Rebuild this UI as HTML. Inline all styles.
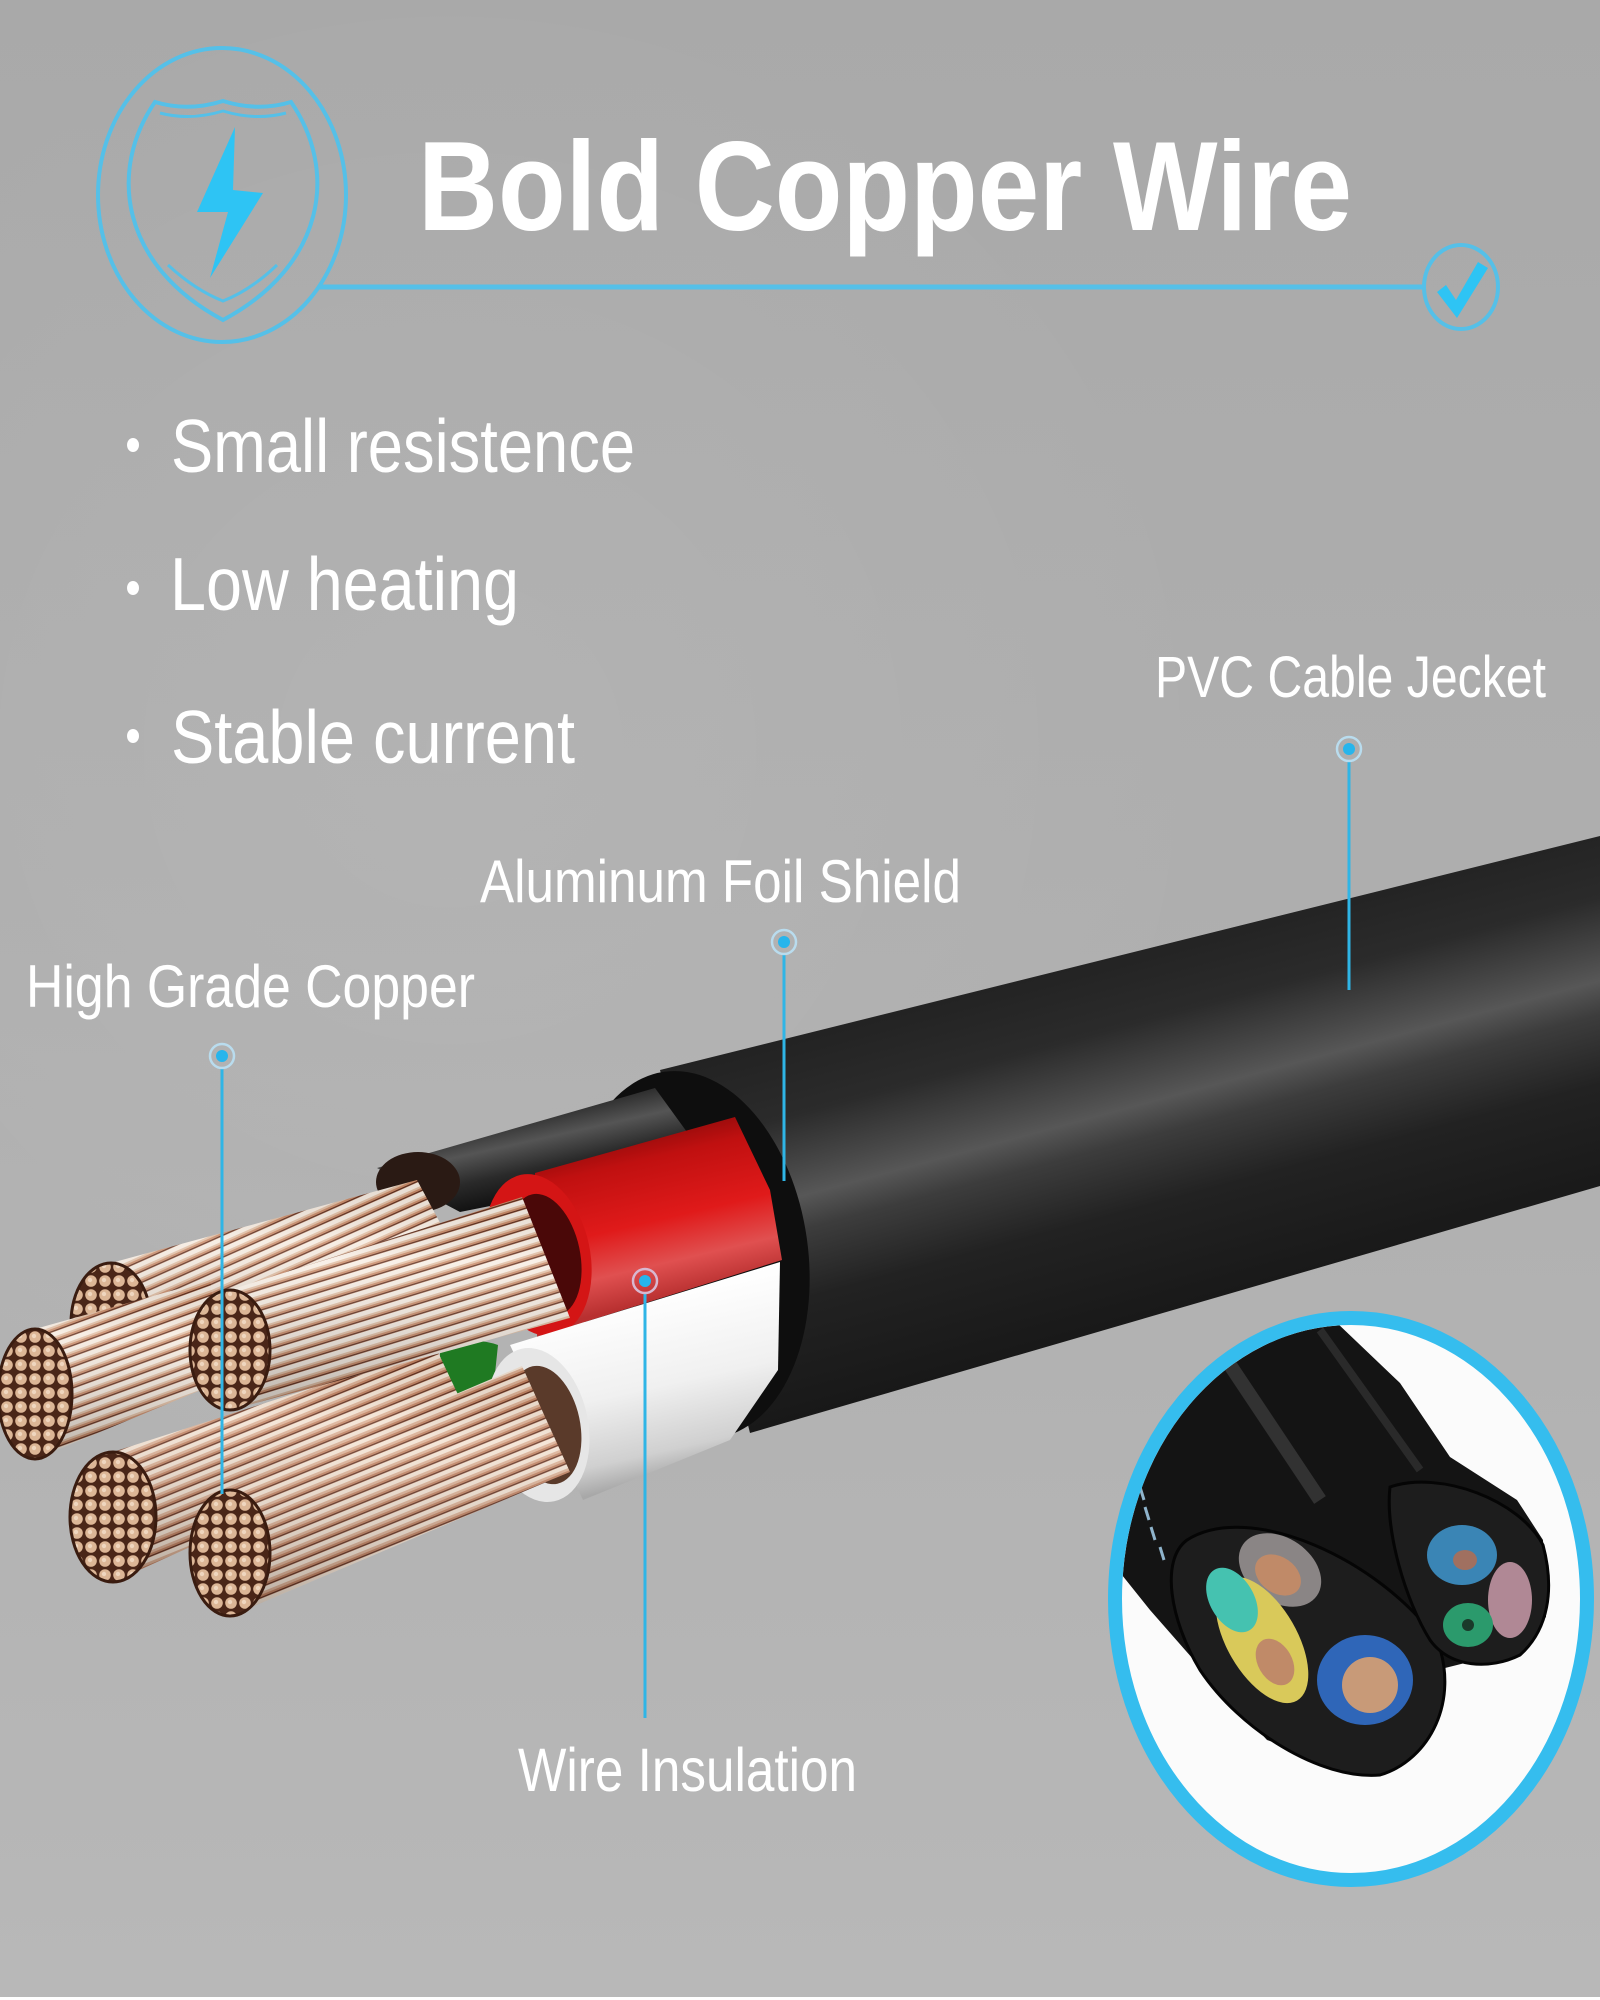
<!DOCTYPE html>
<html><head><meta charset="utf-8"><style>
html,body{margin:0;padding:0;width:1600px;height:2000px;overflow:hidden;background:#b0b0b0}
svg{display:block}
text{font-family:"Liberation Sans",sans-serif;fill:#fff}
</style></head><body>
<svg width="1600" height="2000" viewBox="0 0 1600 2000" xmlns="http://www.w3.org/2000/svg">
<defs>
 <linearGradient id="bg" x1="0" y1="0" x2="0" y2="1">
  <stop offset="0" stop-color="#a9a9a9"/>
  <stop offset="0.5" stop-color="#afafaf"/>
  <stop offset="1" stop-color="#b8b8b8"/>
 </linearGradient>
 <radialGradient id="bgl" cx="450" cy="750" r="800" gradientUnits="userSpaceOnUse">
  <stop offset="0" stop-color="#fff" stop-opacity="0.07"/>
  <stop offset="1" stop-color="#fff" stop-opacity="0"/>
 </radialGradient>
 <linearGradient id="jk" gradientUnits="userSpaceOnUse" x1="1100" y1="950" x2="1204" y2="1336">
  <stop offset="0" stop-color="#222"/>
  <stop offset="0.2" stop-color="#2b2b2b"/>
  <stop offset="0.33" stop-color="#474747"/>
  <stop offset="0.40" stop-color="#575757"/>
  <stop offset="0.48" stop-color="#3d3d3d"/>
  <stop offset="0.65" stop-color="#222"/>
  <stop offset="1" stop-color="#161616"/>
 </linearGradient>
 <linearGradient id="redg" gradientUnits="userSpaceOnUse" x1="620" y1="1130" x2="660" y2="1300">
  <stop offset="0" stop-color="#8a0a0a"/>
  <stop offset="0.2" stop-color="#c01010"/>
  <stop offset="0.55" stop-color="#e01a1a"/>
  <stop offset="0.8" stop-color="#e05050"/>
  <stop offset="1" stop-color="#b83030"/>
 </linearGradient>
 <linearGradient id="whg" gradientUnits="userSpaceOnUse" x1="620" y1="1300" x2="660" y2="1480">
  <stop offset="0" stop-color="#ffffff"/>
  <stop offset="0.5" stop-color="#f0f0f0"/>
  <stop offset="0.85" stop-color="#d0d0d0"/>
  <stop offset="1" stop-color="#a8a8a8"/>
 </linearGradient>
 <linearGradient id="bkg" gradientUnits="userSpaceOnUse" x1="500" y1="1110" x2="520" y2="1200">
  <stop offset="0" stop-color="#1a1a1a"/>
  <stop offset="0.4" stop-color="#555"/>
  <stop offset="0.7" stop-color="#2a2a2a"/>
  <stop offset="1" stop-color="#111"/>
 </linearGradient>
 <linearGradient id="shade" x1="0" y1="0" x2="0" y2="1">
  <stop offset="0" stop-color="#000" stop-opacity="0.05"/>
  <stop offset="0.3" stop-color="#fff" stop-opacity="0.15"/>
  <stop offset="1" stop-color="#000" stop-opacity="0.25"/>
 </linearGradient>
 <pattern id="sA" width="200" height="10" patternUnits="userSpaceOnUse" patternTransform="rotate(-24)">
  <rect width="200" height="10" fill="#c88a68"/><rect y="0" width="200" height="4.5" fill="#f6ebe0"/><rect y="4.5" width="200" height="2" fill="#e2bfa4"/><rect y="8.5" width="200" height="1.2" fill="#5a2a1a"/>
 </pattern>
 <pattern id="sB" width="200" height="10" patternUnits="userSpaceOnUse" patternTransform="rotate(-20)">
  <rect width="200" height="10" fill="#c88a68"/><rect y="0" width="200" height="4.5" fill="#f6ebe0"/><rect y="4.5" width="200" height="2" fill="#e2bfa4"/><rect y="8.5" width="200" height="1.2" fill="#5a2a1a"/>
 </pattern>
 <pattern id="sC" width="200" height="10" patternUnits="userSpaceOnUse" patternTransform="rotate(-17)">
  <rect width="200" height="10" fill="#c88a68"/><rect y="0" width="200" height="4.5" fill="#f8eee4"/><rect y="4.5" width="200" height="2" fill="#e2bfa4"/><rect y="8.5" width="200" height="1.2" fill="#5a2a1a"/>
 </pattern>
 <pattern id="sE" width="200" height="10" patternUnits="userSpaceOnUse" patternTransform="rotate(-22)">
  <rect width="200" height="10" fill="#bf7f5e"/><rect y="0" width="200" height="4" fill="#f3e2d2"/><rect y="4" width="200" height="2.5" fill="#dbae92"/><rect y="8.5" width="200" height="1.2" fill="#5a2a1a"/>
 </pattern>
 <pattern id="dots" width="14" height="14" patternUnits="userSpaceOnUse">
  <rect width="14" height="14" fill="#4a2618"/><circle cx="7" cy="7" r="5.8" fill="#dcb696"/><circle cx="6" cy="6" r="2.2" fill="#efd6bf"/>
 </pattern>
 <clipPath id="insetClip"><ellipse cx="1351" cy="1599" rx="229" ry="274"/></clipPath>
</defs>

<!-- background -->
<rect width="1600" height="2000" fill="url(#bg)"/>
<rect width="1600" height="2000" fill="url(#bgl)"/>
<rect y="1997" width="1600" height="3" fill="#fff"/>

<!-- shield icon -->
<ellipse cx="222" cy="195" rx="124" ry="147" fill="none" stroke="#55c0e8" stroke-width="4"/>
<path d="M155,102 Q188,112 223,101 Q258,112 291,102 C338,170 326,265 223,320 C120,265 108,170 155,102 Z" fill="none" stroke="#55c0e8" stroke-width="4"/>
<path d="M160,113 Q190,121 223,111 Q256,121 286,113" fill="none" stroke="#55c0e8" stroke-width="3"/>
<path d="M168,265 Q195,290 223,301 Q251,290 277,265" fill="none" stroke="#55c0e8" stroke-width="3"/>
<polygon points="235,127 197,212 228,212 210,278 263,193 233,190" fill="#2ec4f4"/>
<line x1="318" y1="287" x2="1424" y2="287" stroke="#55c0e8" stroke-width="5"/>
<ellipse cx="1461" cy="287" rx="37" ry="42" fill="none" stroke="#55c0e8" stroke-width="4"/>
<polygon points="1437,292 1446,285 1456,300 1478,262 1488,268 1457,318" fill="#2ec4f4"/>

<!-- title -->
<text transform="translate(418,230) scale(1,1.16)" font-size="110" font-weight="bold" textLength="934" lengthAdjust="spacingAndGlyphs">Bold Copper Wire</text>

<!-- bullets -->
<ellipse cx="133" cy="445" rx="6" ry="7" fill="#fff"/>
<ellipse cx="133" cy="588" rx="6" ry="7" fill="#fff"/>
<ellipse cx="133" cy="736" rx="6" ry="7" fill="#fff"/>
<text transform="translate(171,472) scale(1,1.18)" font-size="64" textLength="464" lengthAdjust="spacingAndGlyphs">Small resistence</text>
<text transform="translate(170,610) scale(1,1.18)" font-size="64" textLength="349" lengthAdjust="spacingAndGlyphs">Low heating</text>
<text transform="translate(171,763) scale(1,1.18)" font-size="64" textLength="404" lengthAdjust="spacingAndGlyphs">Stable current</text>

<!-- labels -->
<text transform="translate(1155,697) scale(1,1.22)" font-size="48" textLength="391" lengthAdjust="spacingAndGlyphs">PVC Cable Jecket</text>
<text transform="translate(480,902) scale(1,1.18)" font-size="51" textLength="481" lengthAdjust="spacingAndGlyphs">Aluminum Foil Shield</text>
<text transform="translate(26,1007) scale(1,1.18)" font-size="51" textLength="449" lengthAdjust="spacingAndGlyphs">High Grade Copper</text>
<text transform="translate(518,1791) scale(1,1.2)" font-size="51" textLength="339" lengthAdjust="spacingAndGlyphs">Wire Insulation</text>

<!-- jacket -->
<path d="M660,1070 L1600,836 L1600,1186 L750,1433 Z" fill="url(#jk)"/>
<ellipse cx="690" cy="1255" rx="118" ry="185" transform="rotate(-8 690 1255)" fill="#0e0e0e"/>

<!-- black core -->
<path d="M377,1168 L655,1088 L700,1150 L520,1200 L460,1212 Z" fill="url(#bkg)"/>
<ellipse cx="418" cy="1182" rx="42" ry="30" fill="#2a1a14"/>

<!-- bundle A -->
<path d="M111,1263 L417,1180 L445,1232 L111,1383 Z" fill="url(#sA)"/>
<path d="M111,1263 L417,1180 L445,1232 L111,1383 Z" fill="url(#shade)"/>
<ellipse cx="111" cy="1323" rx="40" ry="60" fill="url(#dots)" stroke="#3a1c10" stroke-width="3"/>

<!-- bundle B -->
<path d="M35,1329 L210,1280 L225,1380 L35,1459 Z" fill="url(#sB)"/>
<path d="M35,1329 L210,1280 L225,1380 L35,1459 Z" fill="url(#shade)"/>
<ellipse cx="35" cy="1394" rx="37" ry="65" fill="url(#dots)" stroke="#3a1c10" stroke-width="3"/>

<!-- green core -->
<path d="M440,1350 Q470,1335 498,1345 L492,1402 Q460,1402 440,1392 Z" fill="#1f7a22"/>

<!-- bundle D -->
<path d="M113,1452 L436,1348 L470,1420 L113,1582 Z" fill="url(#sE)"/>
<path d="M113,1452 L436,1348 L470,1420 L113,1582 Z" fill="url(#shade)"/>
<ellipse cx="113" cy="1517" rx="43" ry="65" fill="url(#dots)" stroke="#3a1c10" stroke-width="3"/>

<!-- red core -->
<path d="M535,1173 L735,1117 L770,1190 L782,1260 L537,1337 Z" fill="url(#redg)"/>
<ellipse cx="538" cy="1255" rx="52" ry="82" transform="rotate(-12 538 1255)" fill="#d41515"/>
<ellipse cx="545" cy="1255" rx="35" ry="62" transform="rotate(-12 545 1255)" fill="#4a0808"/>

<!-- bundle C -->
<path d="M230,1290 L522,1197 L570,1318 L230,1410 Z" fill="url(#sC)"/>
<path d="M230,1290 L522,1197 L570,1318 L230,1410 Z" fill="url(#shade)"/>
<ellipse cx="230" cy="1350" rx="40" ry="60" fill="url(#dots)" stroke="#3a1c10" stroke-width="3"/>

<!-- white core -->
<path d="M510,1345 L780,1262 L778,1370 L730,1440 L583,1500 Z" fill="url(#whg)"/>
<ellipse cx="538" cy="1425" rx="50" ry="78" transform="rotate(-12 538 1425)" fill="#e6e6e6"/>
<ellipse cx="545" cy="1425" rx="35" ry="60" transform="rotate(-12 545 1425)" fill="#5a3a2a"/>

<!-- bundle E -->
<path d="M230,1490 L522,1366 L570,1472 L230,1616 Z" fill="url(#sE)"/>
<path d="M230,1490 L522,1366 L570,1472 L230,1616 Z" fill="url(#shade)"/>
<ellipse cx="230" cy="1553" rx="40" ry="63" fill="url(#dots)" stroke="#3a1c10" stroke-width="3"/>

<!-- callouts -->
<g stroke="#2fb5e6" stroke-width="3">
 <line x1="1349" y1="760" x2="1349" y2="990"/>
 <line x1="784" y1="953" x2="784" y2="1181"/>
 <line x1="222" y1="1067" x2="222" y2="1494"/>
 <line x1="645" y1="1292" x2="645" y2="1718"/>
</g>
<g fill="none" stroke="#b9dcee" stroke-width="2.5">
 <circle cx="1349" cy="749" r="12"/>
 <circle cx="784" cy="942" r="12"/>
 <circle cx="222" cy="1056" r="12"/>
 <circle cx="645" cy="1281" r="12" stroke="#d8b8d0"/>
</g>
<g fill="#27b5ec">
 <circle cx="1349" cy="749" r="6"/>
 <circle cx="784" cy="942" r="6"/>
 <circle cx="222" cy="1056" r="6"/>
 <circle cx="645" cy="1281" r="6"/>
</g>

<!-- inset -->
<ellipse cx="1351" cy="1599" rx="230" ry="275" fill="#fbfbfb"/>
<g clip-path="url(#insetClip)">
 <path d="M1110,1470 L1150,1410 L1210,1367 L1313,1300 L1400,1383 L1450,1457 L1517,1500 L1543,1540 L1546,1617 L1517,1650 L1437,1670 L1433,1733 L1400,1757 L1367,1773 L1267,1740 L1200,1667 L1150,1610 L1110,1560 Z" fill="#141414"/>
 <path d="M1200,1320 L1320,1500" stroke="#3a3a3a" stroke-width="14" fill="none" opacity="0.8"/>
 <path d="M1320,1330 L1420,1470" stroke="#2a2a2a" stroke-width="8" fill="none"/>
 <g stroke="#8fb4cc" stroke-width="3">
  <line x1="1140" y1="1487" x2="1144" y2="1500"/>
  <line x1="1145" y1="1507" x2="1149" y2="1520"/>
  <line x1="1151" y1="1527" x2="1155" y2="1540"/>
  <line x1="1160" y1="1547" x2="1164" y2="1560"/>
 </g>
 <!-- cable 1 face -->
 <path d="M1187,1540 C1250,1500 1380,1560 1437,1640 C1460,1700 1430,1760 1380,1775 C1320,1780 1240,1730 1200,1670 C1170,1620 1160,1560 1187,1540 Z" fill="#1d1d1d" stroke="#050505" stroke-width="3"/>
 <ellipse cx="1280" cy="1570" rx="45" ry="32" transform="rotate(35 1280 1570)" fill="#8a8585"/>
 <ellipse cx="1278" cy="1575" rx="25" ry="18" transform="rotate(35 1278 1575)" fill="#c08a68"/>
 <ellipse cx="1262" cy="1640" rx="70" ry="35" transform="rotate(60 1262 1640)" fill="#d9c95a"/>
 <ellipse cx="1232" cy="1600" rx="35" ry="22" transform="rotate(60 1232 1600)" fill="#45c2b0"/>
 <ellipse cx="1275" cy="1662" rx="25" ry="17" transform="rotate(60 1275 1662)" fill="#c08a68"/>
 <ellipse cx="1365" cy="1680" rx="48" ry="45" fill="#2f66b8"/>
 <ellipse cx="1370" cy="1685" rx="28" ry="28" fill="#c89a78"/>
 <!-- cable 2 face -->
 <path d="M1390,1487 C1440,1470 1520,1500 1543,1545 C1555,1590 1548,1630 1520,1655 C1490,1670 1450,1668 1430,1640 C1405,1600 1385,1530 1390,1487 Z" fill="#1d1d1d" stroke="#050505" stroke-width="3"/>
 <ellipse cx="1462" cy="1555" rx="35" ry="30" fill="#3a85b5"/>
 <ellipse cx="1465" cy="1560" rx="12" ry="10" fill="#a07060"/>
 <ellipse cx="1510" cy="1600" rx="22" ry="38" fill="#b08895"/>
 <ellipse cx="1468" cy="1625" rx="25" ry="22" fill="#2b9a6c"/>
 <circle cx="1468" cy="1625" r="6" fill="#1a3a2a"/>
</g>
<ellipse cx="1351" cy="1599" rx="236" ry="281" fill="none" stroke="#35bdee" stroke-width="14"/>
</svg>
</body></html>
